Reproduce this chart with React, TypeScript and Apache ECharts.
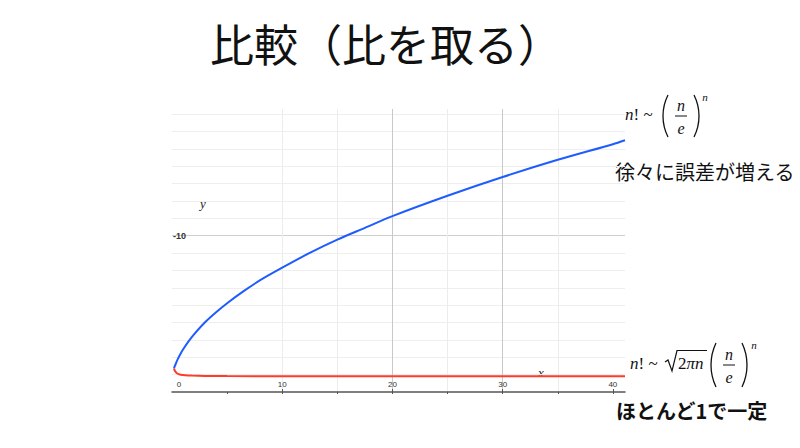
import React, { useEffect, useRef } from 'react';
import * as echarts from 'echarts';

const blueX = [0.18, 0.25, 0.35, 0.5, 0.75, 1, 1.5, 2, 3, 4, 5, 6.5, 8, 10, 12.5, 15, 17.5, 20, 25, 30, 35, 40, 41.1];
const blueY = [1.5, 1.65, 1.82, 2.07, 2.42, 2.72, 3.24, 3.69, 4.46, 5.1, 5.68, 6.45, 7.15, 7.95, 8.9, 9.75, 10.5, 11.25, 12.55, 13.75, 14.85, 15.85, 16.1];
const redX = [0.18, 0.25, 0.35, 0.45, 0.6, 0.8, 1.2, 1.8, 3, 5, 10, 20, 30, 41.1];
const redY = [1.5, 1.38, 1.27, 1.2, 1.14, 1.1, 1.07, 1.05, 1.03, 1.02, 1.01, 1.0, 1.0, 1.0];
const xMinorTicks = [5, 10, 15, 20, 25, 30, 35, 40];
const xMajorTicks = [10, 20, 30, 40];
const xLabelValues = [0, 10, 20, 30, 40];
const yLabelValue = 10;

const serif = 'Liberation Serif';
const cjk = 'Noto Sans CJK JP';

function paren(cx: number, cy: number, h: number, w: number, left: boolean) {
  const half = h / 2;
  const r = (half * half + w * w) / (2 * w);
  const a = Math.asin(half / r);
  const centerX = left ? cx + r : cx - r;
  return {
    type: 'arc',
    shape: left
      ? { cx: centerX, cy, r, startAngle: Math.PI - a, endAngle: Math.PI + a, clockwise: true }
      : { cx: centerX, cy, r, startAngle: -a, endAngle: a, clockwise: true },
    style: { stroke: '#111', lineWidth: 1.3, fill: null },
  };
}

function t(text: string, x: number, y: number, opts: any = {}) {
  return {
    type: 'text',
    x,
    y,
    style: {
      text,
      fontFamily: opts.fontFamily || serif,
      fontSize: opts.fontSize || 16,
      fontStyle: opts.fontStyle || 'normal',
      fontWeight: opts.fontWeight || 'normal',
      fill: opts.fill || '#111',
      textAlign: opts.align || 'center',
      textVerticalAlign: 'middle',
      rich: opts.rich,
    },
  };
}

export default function App() {
  const ref = useRef<HTMLDivElement>(null);
  useEffect(() => {
    document.body.style.margin = '0';
    const chart = echarts.init(ref.current!, null, { renderer: 'svg' });
    const option: any = {
      animation: false,
      backgroundColor: '#ffffff',
      grid: { left: 172, right: 175, top: 109, bottom: 56, containLabel: false },
      xAxis: [
        {
          type: 'value', position: 'bottom', min: 0, max: 41.1, interval: 5,
          axisLine: { show: true, onZero: false, lineStyle: { color: '#555', width: 1.5 } },
          axisTick: { show: true, length: 2, customValues: xMinorTicks, lineStyle: { color: '#555', width: 1 } },
          axisLabel: {
            show: true, inside: true, margin: 4, fontSize: 8, color: '#333', fontFamily: 'Liberation Sans',
            customValues: xLabelValues,
            formatter: (v: number) => (v === 0 ? '{z|0}' : String(v)),
            rich: { z: { fontSize: 8, color: '#333', fontFamily: 'Liberation Sans', padding: [0, 0, 0, 14] } },
          },
          splitLine: { show: true, showMinLine: false, showMaxLine: false, lineStyle: { color: '#ececec', width: 1 } },
        },
        {
          type: 'value', position: 'bottom', offset: 0, min: 0, max: 41.1, interval: 10,
          axisLine: { show: false },
          axisTick: { show: true, inside: true, length: 3, customValues: xMajorTicks, lineStyle: { color: '#555', width: 1 } },
          axisLabel: { show: false },
          splitLine: { show: true, showMinLine: false, showMaxLine: false, lineStyle: { color: '#c8c8c8', width: 1 } },
        },
      ],
      yAxis: [
        {
          type: 'value', position: 'left', min: 0, max: 18.1, interval: 10 / 9,
          axisLine: { show: false }, axisTick: { show: false }, axisLabel: { show: false },
          splitLine: { show: true, showMinLine: false, showMaxLine: false, lineStyle: { color: '#eeeeee', width: 1 } },
        },
        {
          type: 'value', position: 'left', offset: 0, min: 0, max: 18.1, interval: 10,
          axisLine: { show: false }, axisTick: { show: false },
          axisLabel: {
            show: true, inside: true, margin: 1, fontSize: 9, fontWeight: 'bold', color: '#333', fontFamily: 'Liberation Sans',
            formatter: (v: number) => (Math.abs(v - yLabelValue) < 1e-6 ? '-10' : ''),
          },
          splitLine: { show: true, showMinLine: false, showMaxLine: false, lineStyle: { color: '#cfcfcf', width: 1 } },
        },
      ],
      series: [
        {
          type: 'line', xAxisIndex: 0, yAxisIndex: 0, showSymbol: false, smooth: 0.3,
          data: blueX.map((x, i) => [x, blueY[i]]),
          lineStyle: { color: '#1f5cff', width: 2 },
        },
        {
          type: 'line', xAxisIndex: 0, yAxisIndex: 0, showSymbol: false, smooth: 0.3,
          data: redX.map((x, i) => [x, redY[i]]),
          lineStyle: { color: '#ff3b2a', width: 2 },
        },
      ],
      graphic: {
        elements: [
          t('比較（比を取る）', 386, 43, { fontFamily: cjk, fontSize: 44 }),
          t('x', 541, 372, { fontStyle: 'italic', fontSize: 13, fill: '#222' }),
          t('y', 203, 203, { fontStyle: 'italic', fontSize: 13, fill: '#222' }),
          // top formula
          t('{i|n}! ~', 625, 114, { align: 'left', fontSize: 17, rich: { i: { fontStyle: 'italic', fontFamily: serif, fontSize: 17 } } }),
          paren(663, 116, 42, 5, true),
          paren(699, 116, 42, 5, false),
          t('n', 681, 105, { fontStyle: 'italic', fontSize: 16 }),
          { type: 'line', shape: { x1: 675, y1: 116, x2: 687, y2: 116 }, style: { stroke: '#111', lineWidth: 1 } },
          t('e', 681, 128, { fontStyle: 'italic', fontSize: 16 }),
          t('n', 705, 97, { fontStyle: 'italic', fontSize: 11 }),
          t('徐々に誤差が増える', 615, 171, { align: 'left', fontFamily: cjk, fontSize: 20 }),
          // bottom formula
          t('{i|n}! ~', 630, 363, { align: 'left', fontSize: 17, rich: { i: { fontStyle: 'italic', fontFamily: serif, fontSize: 17 } } }),
          {
            type: 'polyline',
            shape: { points: [[665, 362], [668, 360], [672, 371], [677, 350.5], [707, 350.5]] },
            style: { stroke: '#111', lineWidth: 1.2, fill: null },
          },
          t('2{i|πn}', 678, 363, { align: 'left', fontSize: 17, rich: { i: { fontStyle: 'italic', fontFamily: serif, fontSize: 17 } } }),
          paren(711, 365, 44, 5, true),
          paren(747, 365, 44, 5, false),
          t('n', 729, 354, { fontStyle: 'italic', fontSize: 16 }),
          { type: 'line', shape: { x1: 723, y1: 365, x2: 735, y2: 365 }, style: { stroke: '#111', lineWidth: 1 } },
          t('e', 729, 377, { fontStyle: 'italic', fontSize: 16 }),
          t('n', 754, 345, { fontStyle: 'italic', fontSize: 11 }),
          t('ほとんど1で一定', 616, 410, { align: 'left', fontFamily: cjk, fontSize: 20, fontWeight: 'bold' }),
        ],
      },
    };
    chart.setOption(option);
    return () => chart.dispose();
  }, []);
  return <div ref={ref} style={{ width: 800, height: 448 }} />;
}
